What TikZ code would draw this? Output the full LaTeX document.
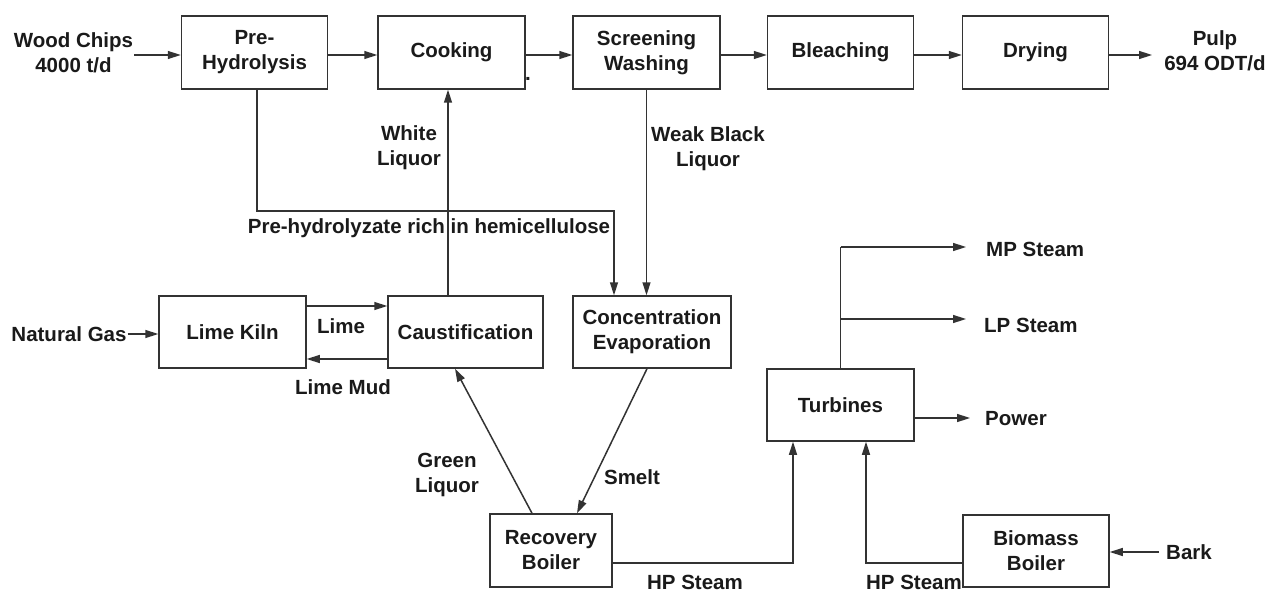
\documentclass[tikz,border=0pt]{standalone}
\usepackage{fontspec}
\setmainfont{Liberation Sans}
\usetikzlibrary{arrows.meta}
\definecolor{lc}{HTML}{333333}
\definecolor{tc}{HTML}{1A1A1A}
\newcommand\labfont{\bfseries\fontsize{20.5}{25}\selectfont}
\begin{document}
\begin{tikzpicture}[x=1pt,y=-1pt,
  box/.style={draw=lc, line width=1.5pt, minimum width=146pt, minimum height=73pt, inner sep=0pt, align=center, font=\labfont, text=tc},
  lab/.style={align=center, font=\labfont, inner sep=1pt, text=tc},
  arr/.style={draw=lc, line width=1.5pt, -{Triangle[length=13pt,width=8pt]}},
  ln/.style={draw=lc, line width=1.5pt}]
\fill[white] (0,0) rectangle (1280,591);
\useasboundingbox (0,0) rectangle (1280,591);

% process boxes
\node[box] (ph) at (254.5,52.5) {Pre-\\Hydrolysis};
\node[box, minimum width=147pt] (cook) at (451.5,52.5) {Cooking};
\node[box, minimum width=147pt] (scr) at (646.5,52.5) {Screening\\Washing};
\node[box] (bl) at (840.5,52.5) {Bleaching};
\node[box] (dry) at (1035.5,52.5) {Drying};
\node[box, minimum width=147pt, minimum height=72pt] (lk) at (232.5,332) {Lime Kiln};
\node[box, minimum width=155pt, minimum height=72pt] (ca) at (465.5,332) {Caustification};
\node[box, minimum width=158pt, minimum height=72pt] (co) at (652,332) {Concentration\\Evaporation};
\node[box, minimum width=147pt, minimum height=72pt] (tu) at (840.5,405) {Turbines};
\node[box, minimum width=122pt] (rb) at (551,550.5) {Recovery\\Boiler};
\node[box, minimum height=72pt] (bb) at (1036,551) {Biomass\\Boiler};

% labels
\node[lab] (wc) at (73.5,52.5) {Wood Chips\\4000 t/d};
\node[lab] (pulp) at (1215,51) {Pulp\\694 ODT/d};
\node[lab] (dot) at (528,79) {.};
\node[lab] (wl) at (409,148) {White\\Liquor};
\node[lab] (wbl) at (708,149) {Weak Black\\Liquor};
\node[lab] (phl) at (429,228) {Pre-hydrolyzate rich in hemicellulose};
\node[lab] (ng) at (69,334) {Natural Gas};
\node[lab] (lime) at (341,326) {Lime};
\node[lab] (mud) at (343,387) {Lime Mud};
\node[lab, anchor=west] (mp) at (985,249) {MP Steam};
\node[lab, anchor=west] (lp) at (983,325) {LP Steam};
\node[lab, anchor=west] (pw) at (984,419) {Power};
\node[lab] (gl) at (447,475) {Green\\Liquor};
\node[lab] (sm) at (632,477) {Smelt};
\node[lab] (hp1) at (695,582) {HP Steam};
\node[lab] (hp2) at (914,582) {HP Steam};
\node[lab, anchor=west] (bark) at (1165,552) {Bark};

% free ends
\coordinate (pulpin) at (1152,55);
\coordinate (phc) at (614,211);
\coordinate (mpin) at (966,247);
\coordinate (lpin) at (966,319);
\coordinate (pwin) at (970,418);

% top row
\draw[arr] (wc.east |- 0,55) -- (ph.west |- 0,55);
\draw[arr] (ph.east |- 0,55) -- (cook.west |- 0,55);
\draw[arr] (cook.east |- 0,55) -- (scr.west |- 0,55);
\draw[arr] (scr.east |- 0,55) -- (bl.west |- 0,55);
\draw[arr] (bl.east |- 0,55) -- (dry.west |- 0,55);
\draw[arr] (dry.east |- pulpin) -- (pulpin);

% liquors
\draw[arr] (ph.south -| 257,0) |- (phc) -- (phc |- co.north);
\draw[arr] (ca.north -| 448,0) -- (cook.south -| 448,0);
\draw[arr] (scr.south) -- (scr.south |- co.north);

% lime cycle
\draw[arr] (lk.east |- 0,306) -- (ca.west |- 0,306);
\draw[arr] (ca.west |- 0,359) -- (lk.east |- 0,359);
\draw[arr] (ng.east) -- (ng.east -| lk.west);

% recovery
\draw[arr] (rb.north -| 532,0) -- (ca.south -| 455,0);
\draw[arr] (co.south -| 647,0) -- (rb.north -| 577,0);

% steam
\draw[arr] (rb.east |- 0,563) -| (tu.south -| 793,0);
\draw[arr] (bb.west |- 0,563) -| (tu.south -| 866,0);
\draw[arr] ([xshift=-6pt]bark.west) -- (bark.west -| bb.east);
\draw[ln] (tu.north) -- (tu.north |- mpin);
\draw[arr] (tu.north |- mpin) -- (mpin);
\draw[arr] (tu.north |- lpin) -- (lpin);
\draw[arr] (tu.east |- pwin) -- (pwin);
\end{tikzpicture}
\end{document}
